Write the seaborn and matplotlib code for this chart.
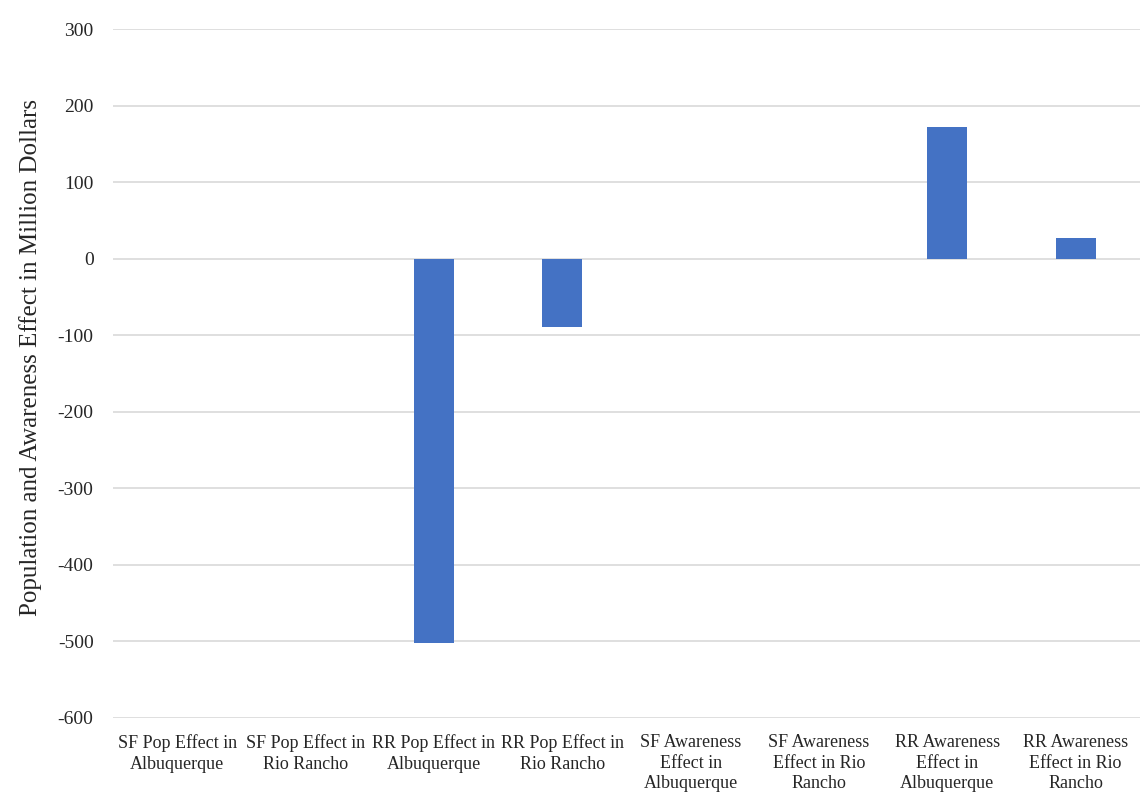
import numpy as np
import pandas as pd
import matplotlib.pyplot as plt
import seaborn as sns

categories = [
    "SF Pop Effect in\nAlbuquerque",
    "SF Pop Effect in\nRio Rancho",
    "RR Pop Effect in\nAlbuquerque",
    "RR Pop Effect in\nRio Rancho",
    "SF Awareness\nEffect in\nAlbuquerque",
    "SF Awareness\nEffect in Rio\nRancho",
    "RR Awareness\nEffect in\nAlbuquerque",
    "RR Awareness\nEffect in Rio\nRancho",
]
values = [0, 0, -502, -89, 0, 0, 172, 27]
yticks = [300, 200, 100, 0, -100, -200, -300, -400, -500, -600]

df = pd.DataFrame({"Effect": categories, "Value": values})

sns.set_style("white")
plt.rcParams["font.family"] = ["Liberation Serif", "DejaVu Serif"]

fig = plt.figure(figsize=(11.41, 7.94), dpi=100)
ax = fig.add_axes([0.099, 0.096, 0.9, 0.867])

sns.barplot(data=df, x="Effect", y="Value", color="#4472C4", width=0.31,
            saturation=1, linewidth=0, ax=ax, zorder=3)

ax.set_ylim(-600, 300)
ax.set_yticks(yticks)
ax.set_yticklabels([str(t) for t in yticks], fontsize=14)
ax.yaxis.grid(True, color="#D9D9D9", linewidth=1.2, zorder=0)
ax.set_axisbelow(True)
for s in ax.spines.values():
    s.set_visible(False)
ax.tick_params(axis="both", length=0)
ax.tick_params(axis="y", pad=14)
ax.tick_params(axis="x", labelsize=13, pad=12)
for lbl in ax.get_xticklabels():
    lbl.set_linespacing(1.25)
ax.set_xlabel("")
ax.set_ylabel("Population and Awareness Effect in Million Dollars", fontsize=18, labelpad=11)
ax.yaxis.label.set_y(0.524)

fig.savefig("out.png", dpi=100)
